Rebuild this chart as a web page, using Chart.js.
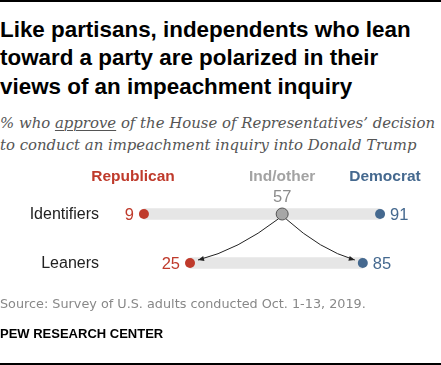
<!DOCTYPE html>
<html>
<head>
<meta charset="utf-8">
<script src="https://cdn.jsdelivr.net/npm/chart.js@4.4.0/dist/chart.umd.min.js"></script>
<style>
  html, body { margin: 0; padding: 0; background: #fff; }
  #page { position: relative; width: 441px; height: 365px; overflow: hidden; }
  .rule { position: absolute; left: 0; width: 441px; height: 2px; background: #000; }
  #title { position: absolute; left: 0; top: 15.7px; font: bold 22.4px "Liberation Sans", Arial, sans-serif; line-height: 28.5px; color: #000; white-space: nowrap; }
  #sub { position: absolute; left: 0; top: 111.8px; font: italic 14.9px "DejaVu Serif", Georgia, serif; line-height: 22px; color: #555; white-space: nowrap; }
  #sub u { text-decoration-thickness: 1px; text-underline-offset: 2px; }
  #chartBox { position: absolute; left: 0; top: 160px; width: 441px; height: 140px; }
  #source { position: absolute; left: 0; top: 296.4px; font: 12.8px "DejaVu Sans", Verdana, sans-serif; line-height: 15px; color: #888; white-space: nowrap; }
  #pew { position: absolute; left: 0; top: 325.5px; font: bold 13px "Liberation Sans", Arial, sans-serif; color: #000; white-space: nowrap; }
</style>
</head>
<body>
<div id="page">
  <div class="rule" style="top:0"></div>
  <div id="title">Like partisans, independents who lean<br>toward a party are polarized in their<br>views of an impeachment inquiry</div>
  <div id="sub">% who <u>approve</u> of the House of Representatives’ decision<br>to conduct an impeachment inquiry into Donald Trump</div>
  <div id="chartBox"><canvas id="dotChart" width="441" height="140"></canvas></div>
  <div id="source">Source: Survey of U.S. adults conducted Oct. 1-13, 2019.</div>
  <div id="pew">PEW RESEARCH CENTER</div>
  <div class="rule" style="top:363px"></div>
</div>
<script>
// data
const rows = ["Identifiers", "Leaners"];
const republican = [9, 25];
const independent = [57, null];
const democrat = [91, 85];
const groupNames = ["Republican", "Ind/other", "Democrat"];

const RED = "#bf3a2b";
const BLUE = "#45698f";
const GRAY = "#a6a6a6";

// labels, headers and arrows
const annotate = {
    id: "annotate",
    afterDatasetsDraw(chart) {
        const ctx = chart.ctx;
        const x = chart.scales.x, y = chart.scales.y;
        ctx.save();

        // column headers
        ctx.font = "bold 15.5px 'Liberation Sans', Arial, sans-serif";
        ctx.textBaseline = "alphabetic";
        ctx.textAlign = "center";
        ctx.fillStyle = RED;
        ctx.fillText(groupNames[0], 133, 21);
        ctx.fillStyle = "#a3a3a3";
        ctx.fillText(groupNames[1], x.getPixelForValue(independent[0]), 21);
        ctx.fillStyle = BLUE;
        ctx.fillText(groupNames[2], 385, 21);

        // row labels
        ctx.font = "16px 'Liberation Sans', Arial, sans-serif";
        ctx.textBaseline = "middle";
        ctx.textAlign = "right";
        ctx.fillStyle = "#222";
        rows.forEach((r, i) => ctx.fillText(r, 99, y.getPixelForValue(i) + 1));

        // value labels
        ctx.font = "16.5px 'Liberation Sans', Arial, sans-serif";
        rows.forEach((r, i) => {
            const py = y.getPixelForValue(i) + 1;
            ctx.textAlign = "right";
            ctx.fillStyle = RED;
            ctx.fillText(republican[i], x.getPixelForValue(republican[i]) - 10, py);
            ctx.textAlign = "left";
            ctx.fillStyle = BLUE;
            ctx.fillText(democrat[i], x.getPixelForValue(democrat[i]) + 10, py);
        });
        ctx.textAlign = "center";
        ctx.textBaseline = "alphabetic";
        ctx.fillStyle = "#8c8c8c";
        ctx.fillText(independent[0], x.getPixelForValue(independent[0]), y.getPixelForValue(0) - 12);

        // arrows from Ind/other to the leaners
        const gx = x.getPixelForValue(independent[0]);
        const gy = y.getPixelForValue(0);
        const ly = y.getPixelForValue(1);
        const arrow = (sx, sy, ex, ey) => {
            const cx = ex + (sx - ex) * 0.5;
            const cy = ey - 10;
            ctx.strokeStyle = "#222";
            ctx.lineWidth = 1;
            ctx.beginPath();
            ctx.moveTo(sx, sy);
            ctx.quadraticCurveTo(cx, cy, ex, ey);
            ctx.stroke();
            const a = Math.atan2(ey - cy, ex - cx);
            ctx.fillStyle = "#222";
            ctx.beginPath();
            ctx.moveTo(ex, ey);
            ctx.lineTo(ex - 6 * Math.cos(a) + 2.5 * Math.sin(a), ey - 6 * Math.sin(a) - 2.5 * Math.cos(a));
            ctx.lineTo(ex - 6 * Math.cos(a) - 2.5 * Math.sin(a), ey - 6 * Math.sin(a) + 2.5 * Math.cos(a));
            ctx.closePath();
            ctx.fill();
        };
        arrow(gx - 4, gy + 5, x.getPixelForValue(republican[1]) + 8, ly - 3);
        arrow(gx + 4, gy + 5, x.getPixelForValue(democrat[1]) - 8, ly - 3);

        ctx.restore();
    }
};

new Chart(document.getElementById("dotChart"), {
    type: "bar",
    data: {
        labels: rows,
        datasets: [
            {
                type: "line", label: groupNames[0], data: republican, order: 1,
                showLine: false, pointRadius: 5, pointBackgroundColor: RED, pointBorderWidth: 0
            },
            {
                type: "line", label: groupNames[1], data: independent, order: 1,
                showLine: false, pointRadius: 6, pointBackgroundColor: GRAY,
                pointBorderColor: "#555", pointBorderWidth: 1
            },
            {
                type: "line", label: groupNames[2], data: democrat, order: 1,
                showLine: false, pointRadius: 5, pointBackgroundColor: BLUE, pointBorderWidth: 0
            },
            {
                label: "range", data: rows.map((_, i) => [republican[i], democrat[i]]), order: 2,
                backgroundColor: "#e6e6e6", borderWidth: 0, barThickness: 11
            }
        ]
    },
    options: {
        indexAxis: "y",
        responsive: false,
        animation: false,
        devicePixelRatio: 1,
        layout: { padding: { left: 118, right: 35, top: 29.5, bottom: 12.5 } },
        plugins: { legend: { display: false }, tooltip: { enabled: false } },
        scales: {
            x: { type: "linear", min: 0, max: 100, display: false },
            y: { type: "category", display: false, offset: true }
        }
    },
    plugins: [annotate]
});
</script>
</body>
</html>
